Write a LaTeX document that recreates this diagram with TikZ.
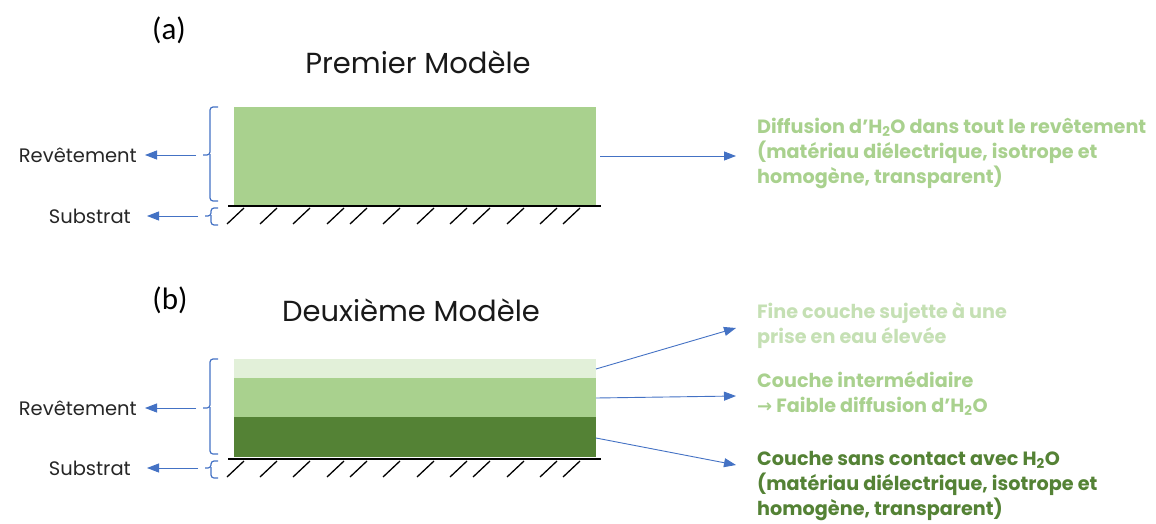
\documentclass[tikz,border=0pt]{standalone}
\usepackage{fontspec}
\setmainfont{Poppins}
\newfontfamily\carl{Carlito}
\usetikzlibrary{arrows.meta}
\definecolor{lgreen}{HTML}{A9D18E}
\definecolor{vlgreen}{HTML}{E2F0D9}
\definecolor{tgreen}{HTML}{C5E0B4}
\definecolor{dgreen}{HTML}{548235}
\definecolor{oblue}{HTML}{4472C4}
\tikzset{
  arr/.style={draw=oblue, line width=0.9pt, -{Triangle[width=9pt,length=12pt]}},
  brace/.style={draw=oblue, line width=1.2pt, rounded corners=3pt},
  lbl/.style={font=\fontsize{19.5}{22}\selectfont, text=black!85, inner sep=0pt},
  desc/.style={font=\fontsize{19.2}{25}\selectfont\bfseries, align=left, anchor=north west, inner sep=0pt},
  layer/.style={inner sep=0pt, outer sep=0pt, draw=none, anchor=north west},
  hatch/.style={line width=1.3pt, black},
  title/.style={font=\fontsize{29}{32}\selectfont, inner sep=0pt, text=black!90},
  plabel/.style={font=\carl\fontsize{31}{34}\selectfont, inner sep=0pt},
}
\begin{document}
\begin{tikzpicture}[x=1pt,y=-1pt]
\useasboundingbox (0,0) rectangle (1156,524);
% ---------- (a)
\node[plabel] (la) at (169,30) {(a)};
\node[title] (ta) at (418,62) {Premier Modèle};
\node[layer, fill=lgreen, minimum width=362pt, minimum height=98pt] (ra) at (234,107) {};
\draw[line width=1.6pt] (228,206) -- (601,206);
\foreach \x in {227,260,293,327,350,383,417,450,473,507,540,563}
  \draw[hatch] (\x,224) -- (\x+17,208);
\draw[brace] (218,107) -- (210,107) -- (210,155) -- (203,155);
\draw[brace] (210,154) -- (210,201) -- (218,201);
\draw[brace] (218,208) -- (211,208) -- (211,216) -- (205,216);
\draw[brace] (211,215) -- (211,225) -- (218,225);
\coordinate (ba) at (196,155);
\coordinate (bsa) at (198,216);
\node[lbl, anchor=east] (reva) at (137,155) {Revêtement};
\node[lbl, anchor=east] (suba) at (131,216) {Substrat};
\draw[arr] (ba) -- (reva.east -| 145,0);
\draw[arr] (bsa) -- (suba.east -| 147,0);
\node[desc, text=lgreen] (da) at (757,118) {Diffusion d’H\textsubscript{2}O dans tout le revêtement\\(matériau diélectrique, isotrope et\\homogène, transparent)};
\coordinate (sa) at (600,156);
\draw[arr] (sa) -- (736,156);
% ---------- (b)
\node[plabel] (lb) at (170,300) {(b)};
\node[title] (tb) at (411,310) {Deuxième Modèle};
\node[layer, fill=vlgreen, minimum width=362pt, minimum height=19pt] (r1) at (234,359) {};
\node[layer, fill=lgreen, minimum width=362pt, minimum height=39pt] (r2) at (234,378) {};
\node[layer, fill=dgreen, minimum width=362pt, minimum height=40pt] (r3) at (234,417) {};
\draw[line width=1.6pt] (228,459) -- (601,459);
\foreach \x in {227,260,293,327,350,383,417,450,473,507,540,563}
  \draw[hatch] (\x,477) -- (\x+17,461);
\draw[brace] (218,359) -- (210,359) -- (210,408) -- (203,408);
\draw[brace] (210,407) -- (210,454) -- (218,454);
\draw[brace] (218,461) -- (211,461) -- (211,468) -- (205,468);
\draw[brace] (211,467) -- (211,478) -- (218,478);
\coordinate (bb) at (196,408);
\coordinate (bsb) at (198,468);
\node[lbl, anchor=east] (revb) at (137,408) {Revêtement};
\node[lbl, anchor=east] (subb) at (131,468) {Substrat};
\draw[arr] (bb) -- (revb.east -| 145,0);
\draw[arr] (bsb) -- (subb.east -| 147,0);
\node[desc, text=tgreen] (d1) at (757,302) {Fine couche sujette à une\\prise en eau élevée};
\node[desc, text=lgreen] (d2) at (757,371) {Couche intermédiaire\\{\fontspec{DejaVu Sans}\fontsize{18}{25}\selectfont→} Faible diffusion d’H\textsubscript{2}O};
\node[desc, text=dgreen] (d3) at (757,451) {Couche sans contact avec H\textsubscript{2}O\\(matériau diélectrique, isotrope et\\homogène, transparent)};
\draw[arr] (r1.east |- 0,369) -- (736,328);
\draw[arr] (r2.east |- 0,398) -- (736,396);
\draw[arr] (r3.east |- 0,438) -- (736,465);
\end{tikzpicture}
\end{document}
